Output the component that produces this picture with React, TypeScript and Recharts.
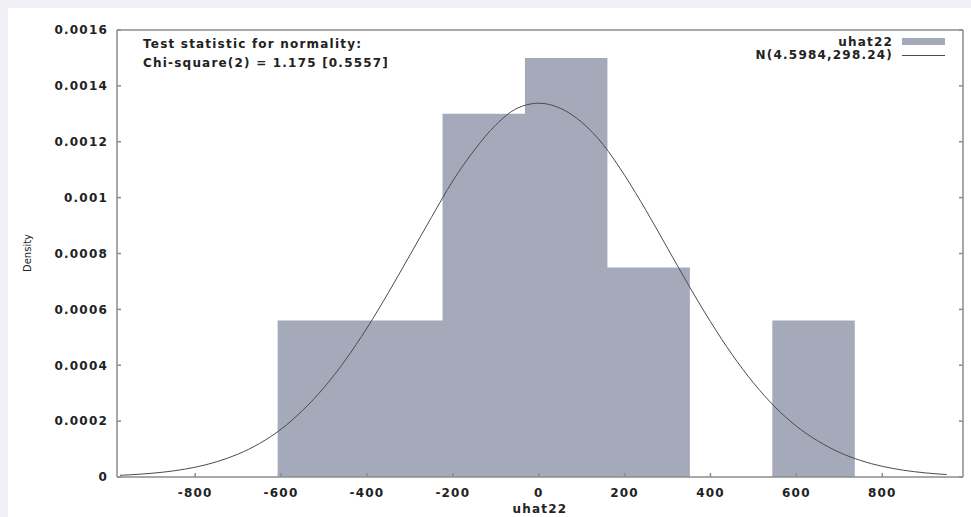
import React from 'react';
import { ComposedChart, Area, Line, XAxis, YAxis } from 'recharts';

// histogram of uhat22: bin edges and density of the bin that starts at each edge
const binEdges = [-608, -416, -224, -32, 160, 352, 544, 736];
const binDensity = [0.00056, 0.00056, 0.0013, 0.0015, 0.00075, 0, 0.00056, 0];

// fitted normal curve N(4.5984, 298.24)
const curveX = [
  -975, -950, -900, -850, -800, -750, -700, -650, -600, -550, -500, -450, -400, -350, -300, -250, -200,
  -150, -100, -50, 0, 50, 100, 150, 200, 250, 300, 350, 400, 450, 500, 550, 600, 650, 700, 750, 800,
  850, 900, 950,
];
const curveY = [
  0.0000061, 0.000008, 0.0000135, 0.000022, 0.000035, 0.0000545, 0.000082, 0.00012, 0.000171, 0.000238,
  0.00032, 0.000419, 0.000533, 0.00066, 0.000794, 0.000929, 0.00106, 0.00117, 0.00126, 0.00132,
  0.001338, 0.00132, 0.00127, 0.00119, 0.00108, 0.000954, 0.000819, 0.000684, 0.000556, 0.000439,
  0.000337, 0.000251, 0.000182, 0.000129, 0.0000883, 0.0000589, 0.0000382, 0.0000241, 0.0000148,
  0.0000088,
];

const xTicks = [-800, -600, -400, -200, 0, 200, 400, 600, 800];
const yTicks = [0, 0.0002, 0.0004, 0.0006, 0.0008, 0.001, 0.0012, 0.0014, 0.0016];
const yTickLabels = ['0', '0.0002', '0.0004', '0.0006', '0.0008', '0.001', '0.0012', '0.0014', '0.0016'];

const histData = binEdges.map((x, i) => ({ x, d: binDensity[i] }));
const curveData = curveX.map((x, i) => ({ x, d: curveY[i] }));

const FONT = '"DejaVu Sans", sans-serif';
const tickStyle = { fontFamily: FONT, fontSize: 12, fontWeight: 700, fill: '#222', letterSpacing: 1.2 };
const axisStroke = { stroke: '#8c8c8c', strokeWidth: 1.5 };
const X_DOMAIN: [number, number] = [-982, 988];
const Y_DOMAIN: [number, number] = [0, 0.0016];

const textStyle: React.CSSProperties = {
  position: 'absolute',
  fontFamily: FONT,
  fontSize: 12,
  fontWeight: 700,
  color: '#222',
  letterSpacing: 1.2,
  whiteSpace: 'nowrap',
  lineHeight: '14px',
};

export default function App() {
  return (
    <div style={{ position: 'absolute', left: 0, top: 0, width: 971, height: 517, background: '#eff1f4', overflow: 'hidden' }}>
      <div style={{ position: 'absolute', left: 8, top: 8, right: 0, bottom: 0, background: '#fff' }} />
      <div style={{ position: 'absolute', left: 0, top: 0 }}>
        <ComposedChart width={971} height={517} margin={{ top: 29, right: 7, bottom: 39, left: 116 }}>
          <XAxis
            dataKey="x"
            type="number"
            domain={X_DOMAIN}
            ticks={xTicks}
            interval={0}
            allowDataOverflow
            height={1}
            tickSize={-4}
            tickMargin={15}
            tick={tickStyle}
            axisLine={axisStroke}
            tickLine={axisStroke}
          />
          <XAxis
            xAxisId="top"
            orientation="top"
            type="number"
            domain={X_DOMAIN}
            ticks={xTicks}
            interval={0}
            allowDataOverflow
            height={1}
            tickSize={-4}
            tickFormatter={() => ''}
            axisLine={axisStroke}
            tickLine={axisStroke}
          />
          <YAxis
            type="number"
            domain={Y_DOMAIN}
            ticks={yTicks}
            interval={0}
            allowDataOverflow
            width={1}
            tickSize={-4}
            tickMargin={13}
            tick={tickStyle}
            tickFormatter={(_v: number, i: number) => yTickLabels[i]}
            axisLine={axisStroke}
            tickLine={axisStroke}
          />
          <YAxis
            yAxisId="right"
            orientation="right"
            type="number"
            domain={Y_DOMAIN}
            ticks={yTicks}
            interval={0}
            allowDataOverflow
            width={1}
            tickSize={-4}
            tickFormatter={() => ''}
            axisLine={axisStroke}
            tickLine={axisStroke}
          />
          <Area
            data={histData}
            dataKey="d"
            type="stepAfter"
            stroke="none"
            fill="#a5aabb"
            fillOpacity={1}
            isAnimationActive={false}
          />
          <Line
            data={curveData}
            dataKey="d"
            type="monotone"
            stroke="#4a4a55"
            strokeWidth={1}
            dot={false}
            isAnimationActive={false}
          />
        </ComposedChart>
      </div>

      <div style={{ ...textStyle, left: 143, top: 37 }}>Test statistic for normality:</div>
      <div style={{ ...textStyle, left: 143, top: 56 }}>Chi-square(2) = 1.175 [0.5557]</div>

      <div style={{ ...textStyle, right: 971 - 893, top: 35, textAlign: 'right' }}>uhat22</div>
      <div style={{ position: 'absolute', left: 902, top: 38, width: 43, height: 7, background: '#a5aabb' }} />
      <div style={{ ...textStyle, right: 971 - 893, top: 48, textAlign: 'right' }}>N(4.5984,298.24)</div>
      <div style={{ position: 'absolute', left: 902, top: 55, width: 43, height: 1, background: '#4a4a55' }} />

      <div
        style={{
          position: 'absolute',
          left: 27,
          top: 253,
          transform: 'translate(-50%, -50%) rotate(-90deg)',
          fontFamily: FONT,
          fontSize: 10,
          color: '#222',
          whiteSpace: 'nowrap',
        }}
      >
        Density
      </div>
      <div style={{ ...textStyle, left: 540, top: 502, transform: 'translateX(-50%)' }}>uhat22</div>
    </div>
  );
}
